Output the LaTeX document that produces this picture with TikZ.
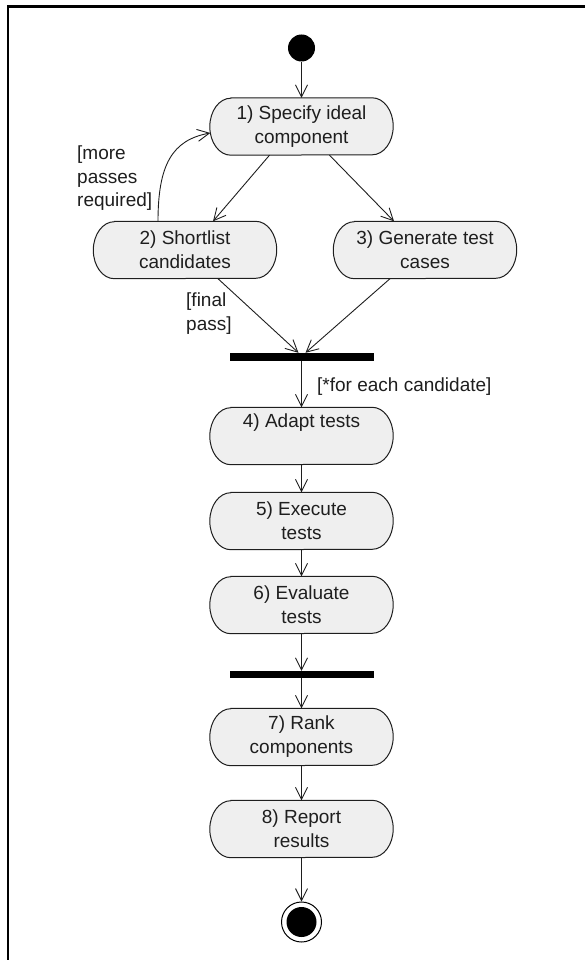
\documentclass[tikz,border=0pt]{standalone}
\usepackage{fontspec}
\setmainfont{Liberation Sans}
\usetikzlibrary{arrows.meta,calc}
\definecolor{actfill}{HTML}{EFEFEF}
\definecolor{ink}{HTML}{1E1E1E}
\pgfdeclarelayer{bg}
\pgfsetlayers{bg,main}
\begin{document}
\begin{tikzpicture}[x=1pt,y=-1pt,
  act/.style={minimum width=183pt, minimum height=57pt, inner sep=0pt, align=center,
    font=\fontsize{19}{24}\selectfont, text=ink},
  actoutline/.style={draw=ink, fill=actfill, line width=1pt},
  flow/.style={draw=ink, line width=0.9pt,
    -{Straight Barb[length=12pt,width=12pt,line width=0.9pt]}},
  syncbar/.style={fill=black, minimum width=144pt, minimum height=8pt, inner sep=0pt},
  guard/.style={font=\fontsize{19}{23.5}\selectfont, text=ink, align=left,
    inner sep=0pt, anchor=west}]
\useasboundingbox (0,0) rectangle (585,960);
\draw[line width=2.5pt, line join=miter] (8,962) -- (8,6.5) -- (587,6.5);

\node[circle, fill=black, minimum size=27pt, inner sep=0pt] (start) at (301.5,48) {};
\node[act] (n1) at (301.5,126.5) {1) Specify ideal\\component};
\node[act] (n2) at (185,250) {2) Shortlist\\candidates};
\node[act] (n3) at (425,250) {3) Generate test\\cases};
\node[syncbar] (b1) at (301.5,357) {};
\node[act] (n4) at (301.5,436) {4) Adapt tests\\\strut};
\node[act] (n5) at (301.5,521) {5) Execute\\tests};
\node[act] (n6) at (301.5,605) {6) Evaluate\\tests};
\node[syncbar, minimum height=7pt] (b2) at (301.5,674.5) {};
\node[act] (n7) at (301.5,737) {7) Rank\\components};
\node[act] (n8) at (301.5,829) {8) Report\\results};
\node[circle, draw=black, line width=1pt, minimum size=40pt, inner sep=0pt] (end) at (301.5,922) {};
\node[circle, fill=black, minimum size=30pt, inner sep=0pt] (endin) at (end) {};

\begin{pgfonlayer}{bg}
\foreach \n in {n1,n2,n3,n4,n5,n6,n7,n8}{
  \path[actoutline] ($(\n.north west)+(21,0)$) -- ($(\n.north east)+(-21,0)$)
    arc[start angle=-90, end angle=90, x radius=21, y radius=28.5]
    -- ($(\n.south west)+(21,0)$)
    arc[start angle=90, end angle=270, x radius=21, y radius=28.5] -- cycle;
}
\end{pgfonlayer}

\node[guard] (g1) at (77,178.5) {[more\\passes\\required]};
\node[guard] (g2) at (186,313.5) {[final\\pass]};
\node[guard] (g3) at (317,387) {[*for each candidate]};

\draw[flow] (start) -- (n1);
\draw[flow] ($(n1.south)+(-32,0)$) -- ($(n2.north)+(28,0)$);
\draw[flow] ($(n1.south)+(28,0)$) -- ($(n3.north)+(-31,0)$);
\draw[flow] ($(n2.north)+(-27,0)$) .. controls (158,165) and (172,140) .. ($(n1.west)+(0.5,6.5)$);
\draw[flow] ($(n2.south)+(33,0)$) -- ($(b1.north)+(-3,0)$);
\draw[flow] ($(n3.south)+(-35,0)$) -- ($(b1.north)+(4,0)$);
\draw[flow] (b1) -- (n4);
\draw[flow] (n4) -- (n5);
\draw[flow] (n5) -- (n6);
\draw[flow] (n6) -- (b2);
\draw[flow] (b2) -- (n7);
\draw[flow] (n7) -- (n8);
\draw[flow] (n8) -- (end);
\end{tikzpicture}
\end{document}
